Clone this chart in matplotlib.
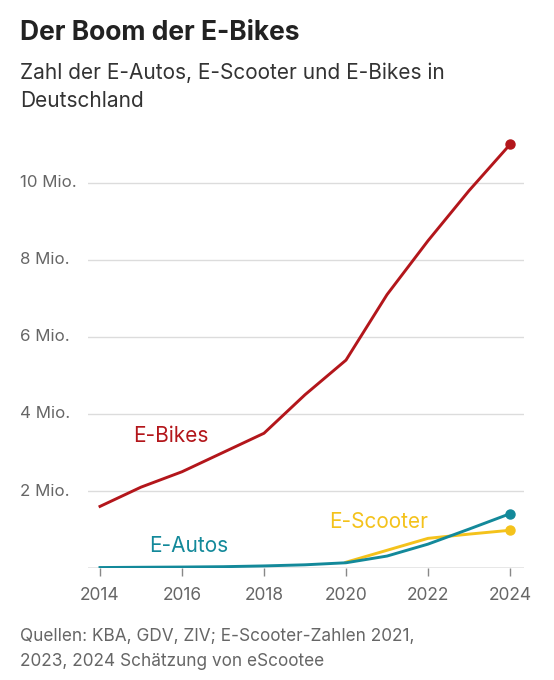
import matplotlib
matplotlib.use("Agg")
import matplotlib.pyplot as plt
import matplotlib.transforms as mtransforms

plt.rcParams['font.family'] = ['Inter', 'DejaVu Sans']

years = list(range(2014, 2025))
ebikes = [1.6, 2.1, 2.5, 3.0, 3.5, 4.5, 5.4, 7.1, 8.5, 9.8, 11.0]
eautos = [0.012, 0.019, 0.025, 0.034, 0.054, 0.083, 0.136, 0.31, 0.62, 1.01, 1.41]
scooter_years = [2020, 2021, 2022, 2023, 2024]
escooter = [0.15, 0.46, 0.77, 0.88, 0.98]

y_ticks = [2, 4, 6, 8, 10]
y_labels = ['2 Mio.', '4 Mio.', '6 Mio.', '8 Mio.', '10 Mio.']
x_ticks = [2014, 2016, 2018, 2020, 2022, 2024]

red = '#b3161b'
teal = '#13899a'
yellow = '#f4c21b'
grey_text = '#666666'

fig = plt.figure(figsize=(5.54, 6.8), dpi=100)
ax = fig.add_axes([88 / 554, 112 / 680, 436 / 554, 431.2 / 680])

ax.set_xlim(2014 - 12 / 41, 2024 + 14 / 41)
ax.set_ylim(0, 11.2)

for s in ax.spines.values():
    s.set_visible(False)
ax.set_yticks([])
ax.set_xticks(x_ticks)
ax.set_xticklabels([str(x) for x in x_ticks], color=grey_text, fontsize=12.5)
ax.tick_params(axis='x', length=6, width=1, color='#888888', pad=8)

for v in y_ticks:
    ax.axhline(v, color='#dcdcdc', lw=1, zorder=1)
ax.axhline(0, color='#888888', lw=1, zorder=1)

# y labels sit left-aligned at the figure edge, on the gridlines
trans = mtransforms.blended_transform_factory(fig.transFigure, ax.transData)
for v, lab in zip(y_ticks, y_labels):
    ax.text(20 / 554, v, lab, transform=trans, ha='left', va='center',
            fontsize=12.2, color=grey_text)

ax.plot(years, ebikes, color=red, lw=2.1, zorder=3)
ax.plot(years[-1], ebikes[-1], 'o', color=red, ms=6.5, zorder=4)
ax.plot(scooter_years, escooter, color=yellow, lw=2.1, zorder=3)
ax.plot(scooter_years[-1], escooter[-1], 'o', color=yellow, ms=6.5, zorder=4)
ax.plot(years, eautos, color=teal, lw=2.1, zorder=3)
ax.plot(years[-1], eautos[-1], 'o', color=teal, ms=6.5, zorder=4)

ax.text(2014.8, 3.42, 'E-Bikes', color=red, fontsize=15, ha='left', va='center')
ax.text(2015.2, 0.57, 'E-Autos', color=teal, fontsize=15, ha='left', va='center')
ax.text(2019.6, 1.2, 'E-Scooter', color=yellow, fontsize=15, ha='left', va='center')

fig.text(20 / 554, 1 - 33 / 680, 'Der Boom der E-Bikes', fontsize=19,
         fontweight='bold', color='#222222', ha='left', va='center')
fig.text(20 / 554, 1 - 73 / 680, 'Zahl der E-Autos, E-Scooter und E-Bikes in',
         fontsize=15, color='#333333', ha='left', va='center')
fig.text(20 / 554, 1 - 101 / 680, 'Deutschland',
         fontsize=15, color='#333333', ha='left', va='center')
fig.text(20 / 554, 1 - 636 / 680, 'Quellen: KBA, GDV, ZIV; E-Scooter-Zahlen 2021,',
         fontsize=12.4, color=grey_text, ha='left', va='center')
fig.text(20 / 554, 1 - 662 / 680, '2023, 2024 Schätzung von eScootee',
         fontsize=12.4, color=grey_text, ha='left', va='center')

fig.savefig('out.png', dpi=100)
